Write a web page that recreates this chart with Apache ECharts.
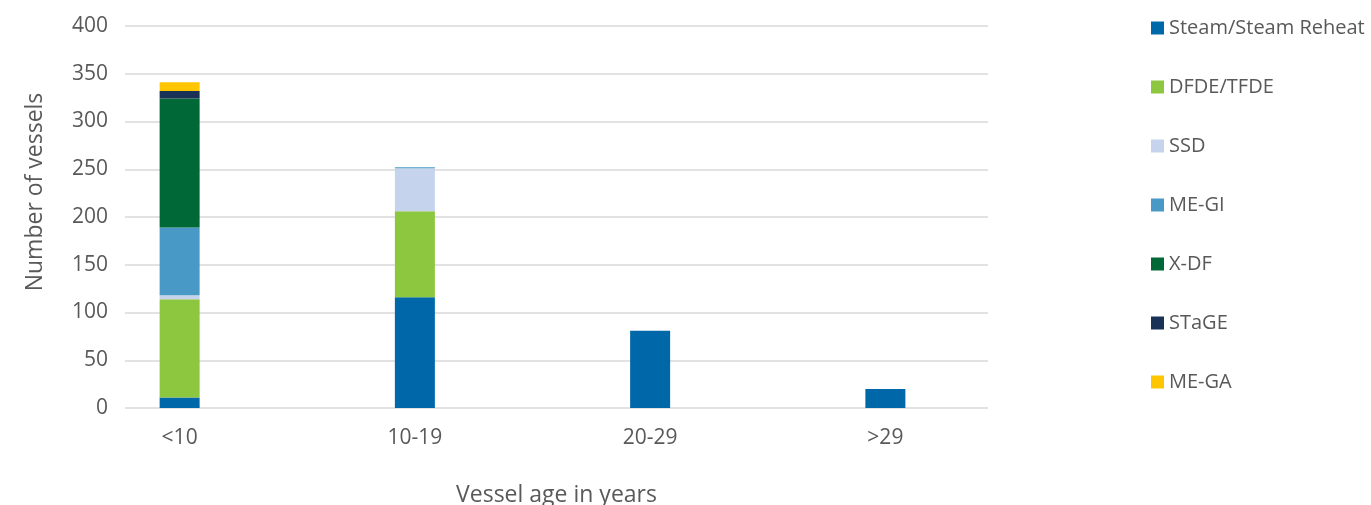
<!DOCTYPE html>
<html>
<head>
<meta charset="utf-8">
<script src="https://cdn.jsdelivr.net/npm/echarts@6/dist/echarts.min.js"></script>
<style>
html,body{margin:0;padding:0;background:#fff;}
#chart{width:1371px;height:505px;}
</style>
</head>
<body>
<div id="chart"></div>
<script>
const categories = ['<10', '10-19', '20-29', '>29'];
const seriesNames = ['Steam/Steam Reheat', 'DFDE/TFDE', 'SSD', 'ME-GI', 'X-DF', 'STaGE', 'ME-GA'];
const steam = [11, 116, 81, 20];
const dfde  = [103, 90, 0, 0];
const ssd   = [4, 45, 0, 0];
const megi  = [71, 1, 0, 0];
const xdf   = [135, 0, 0, 0];
const stage = [8, 0, 0, 0];
const mega  = [9, 0, 0, 0];
const yTicks = [0, 50, 100, 150, 200, 250, 300, 350, 400];

const values = [steam, dfde, ssd, megi, xdf, stage, mega];
const colors = ['#0067a8', '#8dc63f', '#c5d4ec', '#4899c5', '#006837', '#1b3257', '#ffc600'];
const font = '"Open Sans", "Noto Sans", sans-serif';
const textColor = '#595959';

const chart = echarts.init(document.getElementById('chart'), null, {renderer: 'canvas'});

chart.setOption({
  animation: false,
  textStyle: {fontFamily: font},
  grid: [
    {left: 62, right: 368, top: 26, bottom: 97, containLabel: false, outerBoundsMode: 'none'},
    {left: 125, right: 383, top: 26, bottom: 97, containLabel: false, outerBoundsMode: 'none'}
  ],
  legend: {
    orient: 'vertical',
    left: 1146,
    top: 13,
    icon: 'rect',
    itemWidth: 13,
    itemHeight: 13,
    itemGap: 39,
    textStyle: {fontFamily: font, fontSize: 20, color: textColor, lineHeight: 20, padding: [0, 0, 0, 0]},
    data: seriesNames
  },
  xAxis: [
    {
      gridIndex: 0,
      type: 'category',
      data: categories,
      axisLine: {show: false},
      axisTick: {show: false},
      splitLine: {show: false},
      axisLabel: {fontFamily: font, fontSize: 21, color: textColor, margin: 20}
    },
    {
      gridIndex: 1,
      type: 'value',
      min: 0,
      max: 1,
      name: 'Vessel age in years',
      nameLocation: 'middle',
      nameGap: 76,
      nameTextStyle: {fontFamily: font, fontSize: 23, color: textColor},
      axisLine: {show: false},
      axisTick: {show: false},
      axisLabel: {show: false},
      splitLine: {show: false}
    }
  ],
  yAxis: [
    {
      gridIndex: 0,
      type: 'value',
      min: yTicks[0],
      max: yTicks[yTicks.length - 1],
      interval: 50,
      show: false,
      splitLine: {show: false}
    },
    {
      gridIndex: 1,
      type: 'value',
      min: yTicks[0],
      max: yTicks[yTicks.length - 1],
      interval: 50,
      name: 'Number of vessels',
      nameLocation: 'middle',
      nameGap: 78,
      nameTextStyle: {fontFamily: font, fontSize: 23, color: textColor, padding: [0, 0, 0, 50]},
      axisLine: {show: false},
      axisTick: {show: false},
      axisLabel: {fontFamily: font, fontSize: 21, color: textColor, margin: 17},
      splitLine: {lineStyle: {color: '#d9d9d9', width: 1.5}}
    }
  ],
  series: seriesNames.map((name, s) => ({
    name: name,
    type: 'bar',
    stack: 'total',
    xAxisIndex: 0,
    yAxisIndex: 0,
    barWidth: 40,
    itemStyle: {color: colors[s]},
    data: values[s]
  }))
});
</script>
</body>
</html>
